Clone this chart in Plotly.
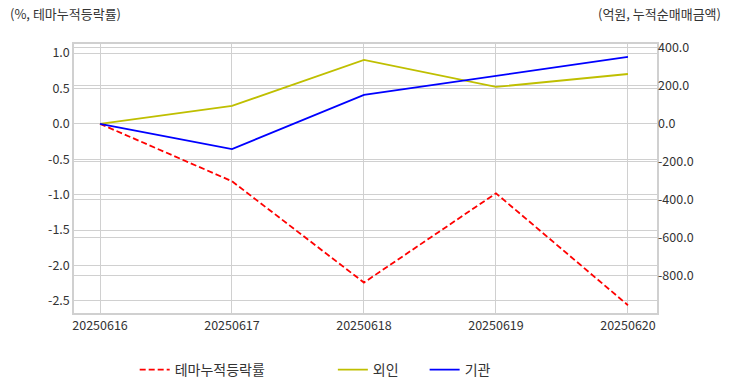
import plotly.graph_objects as go

dates = ["20250616", "20250617", "20250618", "20250619", "20250620"]
theme_rate = [0.0, -0.81, -2.24, -0.98, -2.56]
foreign = [0.0, 95.0, 337.0, 195.0, 263.0]
institution = [0.0, -132.0, 153.0, 253.0, 353.0]

left_ticks = [1.0, 0.5, 0.0, -0.5, -1.0, -1.5, -2.0, -2.5]
left_ticktext = ["1.0", "0.5", "0.0", "-0.5", "-1.0", "-1.5", "-2.0", "-2.5"]
right_ticks = [400, 200, 0, -200, -400, -600, -800]
right_ticktext = ["400.0", "200.0", "0.0", "-200.0", "-400.0", "-600.0", "-800.0"]

font_family = "Noto Sans CJK KR, Noto Sans, sans-serif"
IS = "\u3000"  # ideographic space
ES = "\u2002"  # en space

fig = go.Figure()
fig.add_trace(go.Scatter(x=dates, y=theme_rate, name="테마누적등락률" + IS * 4 + ES, mode="lines",
                         line=dict(color="#FF0000", width=1.8, dash="6px,3px"), yaxis="y"))
fig.add_trace(go.Scatter(x=dates, y=foreign, name="외인" + IS + ES, mode="lines",
                         line=dict(color="#BFBF00", width=1.8), yaxis="y2"))
fig.add_trace(go.Scatter(x=dates, y=institution, name="기관", mode="lines",
                         line=dict(color="#0000FF", width=1.8), yaxis="y2"))

fig.update_layout(
    width=732, height=392,
    margin=dict(l=74, r=75, t=44, b=79, autoexpand=False),
    paper_bgcolor="white", plot_bgcolor="white",
    font=dict(family=font_family, size=12, color="#444444"),
    xaxis=dict(type="category", range=[-0.197, 4.22], showgrid=True, gridcolor="#d0d0d0",
               linecolor="#d0d0d0", linewidth=1.5, mirror=True, ticks="", zeroline=False,
               automargin=False, tickfont=dict(size=12.5, color="#333333")),
    yaxis=dict(range=[-2.67, 1.127], tickmode="array", tickvals=left_ticks,
               ticktext=left_ticktext, showgrid=True, automargin=False,
               gridcolor="#d0d0d0", linecolor="#d0d0d0", linewidth=1.5, mirror=True,
               zeroline=False, ticks="", tickfont=dict(size=12.5, color="#333333")),
    yaxis2=dict(range=[-995, 421], tickmode="array", tickvals=right_ticks,
                ticktext=right_ticktext, overlaying="y", side="right", automargin=False,
                showgrid=True, gridcolor="#d0d0d0", zeroline=False, ticks="",
                tickfont=dict(size=12.5, color="#333333")),
    legend=dict(orientation="h", xref="container", yref="container", x=0.184, xanchor="left",
                y=0.056, yanchor="middle", font=dict(size=14, color="#333333"),
                bgcolor="rgba(0,0,0,0)"),
    showlegend=True,
    annotations=[
        dict(text="(%, 테마누적등락률)", xref="paper", yref="paper", x=-0.113, y=1.0,
             xanchor="left", yanchor="bottom", yshift=19, showarrow=False,
             font=dict(size=13, color="#333333")),
        dict(text="(억원, 누적순매매금액)", xref="paper", yref="paper", x=1.113, y=1.0,
             xanchor="right", yanchor="bottom", yshift=19, showarrow=False,
             font=dict(size=13, color="#333333")),
    ],
)

fig.write_html("out.html", config={"displayModeBar": False},
               post_script="document.body.style.margin='0';document.body.style.overflow='hidden';")
